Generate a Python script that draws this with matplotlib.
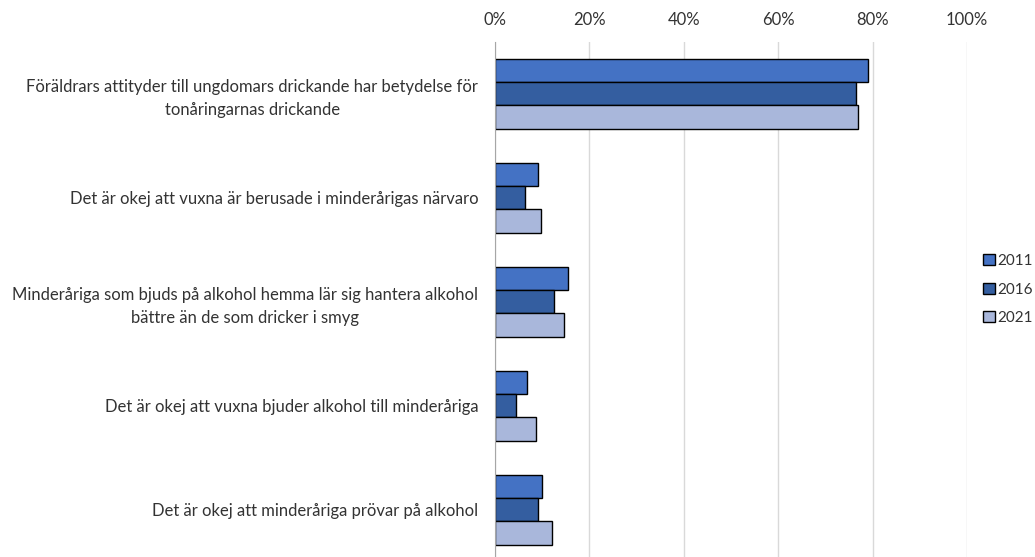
import numpy as np
import matplotlib.pyplot as plt
from matplotlib.ticker import PercentFormatter

plt.rcParams['font.family'] = ['Lato', 'DejaVu Sans']

categories = [
    "Föräldrars attityder till ungdomars drickande har betydelse för\ntonåringarnas drickande",
    "Det är okej att vuxna är berusade i minderårigas närvaro",
    "Minderåriga som bjuds på alkohol hemma lär sig hantera alkohol\nbättre än de som dricker i smyg",
    "Det är okej att vuxna bjuder alkohol till minderåriga",
    "Det är okej att minderåriga prövar på alkohol",
]
years = ["2011", "2016", "2021"]
v2011 = [79.1, 9.2, 15.5, 6.8, 10.0]
v2016 = [76.4, 6.3, 12.5, 4.4, 9.2]
v2021 = [76.9, 9.8, 14.7, 8.7, 12.1]
colors = ["#4472C4", "#345EA0", "#A9B7DB"]

fig = plt.figure(figsize=(10.35, 5.57), dpi=100)
ax = fig.add_axes([0.4782, 0.0, 0.456, 0.925])

y = np.arange(len(categories))
h = 0.223
for k, (vals, lab) in enumerate(zip([v2011, v2016, v2021], years)):
    ax.barh(y + (k - 1) * h, vals, height=h, color=colors[k],
            edgecolor="black", linewidth=1.0, label=lab, zorder=3)

ax.set_xlim(0, 100)
ax.set_ylim(4.454, -0.5)
ax.set_xticks(np.arange(0, 101, 20))
ax.xaxis.set_major_formatter(PercentFormatter(decimals=0))
ax.xaxis.tick_top()
ax.tick_params(axis="x", length=0, pad=10, labelsize=12, colors="#333333")
ax.set_yticks(y)
ax.set_yticklabels(categories, fontsize=12, color="#333333",
                   multialignment="center", linespacing=1.5)
ax.tick_params(axis="y", length=0, pad=12)
ax.grid(axis="x", color="#D9D9D9", linewidth=1.0, zorder=0)
for s in ["top", "right", "bottom"]:
    ax.spines[s].set_visible(False)
ax.spines["left"].set_color("#A6A6A6")
ax.spines["left"].set_zorder(4)

handles, labels = ax.get_legend_handles_labels()
fig.legend(handles, labels, loc="center left", bbox_to_anchor=(0.950, 0.48),
           frameon=False, fontsize=11, handlelength=0.75, handleheight=0.75,
           handletextpad=0.2, labelspacing=0.95, labelcolor="#333333",
           borderpad=0, borderaxespad=0)

fig.savefig("out.png", dpi=100)
